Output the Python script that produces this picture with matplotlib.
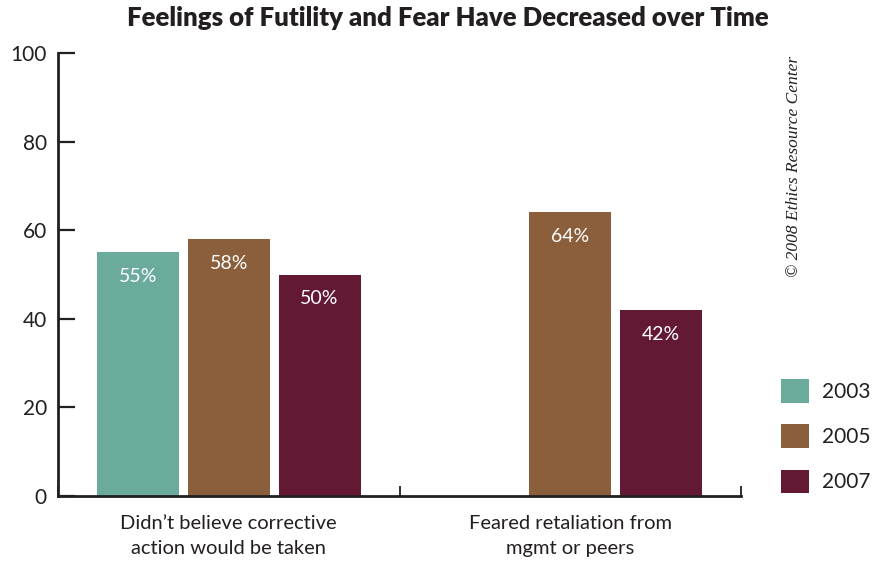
import matplotlib

matplotlib.use("Agg")
import matplotlib.pyplot as plt
from matplotlib.patches import Patch

categories = ["Didn\u2019t believe corrective\naction would be taken",
              "Feared retaliation from\nmgmt or peers"]
years = ["2003", "2005", "2007"]
values_2003 = [55, None]
values_2005 = [58, 64]
values_2007 = [50, 42]
colors = ["#6aab9c", "#8b5e3c", "#631834"]

plt.rcParams["font.family"] = ["Lato", "DejaVu Sans"]

fig = plt.figure(figsize=(8.76, 5.61), dpi=100)
ax = fig.add_axes([58 / 876, 1 - 496 / 561, (741 - 58) / 876, (496 - 53) / 561])

centers = [0.5, 1.5]
width = 0.24
step = 0.266
series = [values_2003, values_2005, values_2007]
for i, (vals, col) in enumerate(zip(series, colors)):
    for c, v in zip(centers, vals):
        if v is None:
            continue
        x = c + (i - 1) * step
        ax.bar(x, v, width=width, color=col, linewidth=0)
        ax.text(x, v - 5.5, f"{v}%", ha="center", va="center",
                color="white", fontsize=14)

ax.set_xlim(0, 2)
ax.set_ylim(0, 100)
ax.set_yticks(range(0, 101, 20))
ax.tick_params(axis="y", direction="in", length=12, width=1.6,
               labelsize=15, pad=8, color="#231f20", labelcolor="#231f20")
ax.set_xticks([0, 1, 2])
ax.set_xticklabels([])
ax.tick_params(axis="x", direction="in", length=7, width=1.3, color="#231f20")
ax.set_xticks(centers, minor=True)
ax.set_xticklabels(categories, minor=True)
ax.tick_params(axis="x", which="minor", length=0, labelsize=14.5, pad=14,
               labelcolor="#231f20")
for lbl in ax.get_xticklabels(minor=True):
    lbl.set_linespacing(1.55)

for side in ["top", "right"]:
    ax.spines[side].set_visible(False)
for side in ["left", "bottom"]:
    ax.spines[side].set_linewidth(2)
    ax.spines[side].set_color("#231f20")

fig.text(448 / 876, 1 - 18 / 561,
         "Feelings of Futility and Fear Have Decreased over Time",
         ha="center", va="center", fontsize=18.5, fontweight="heavy",
         color="#231f20")

fig.text(794 / 876, 1 - 166 / 561, "\u00a9 2008 Ethics Resource Center",
         rotation=90, ha="center", va="center", fontsize=12.5,
         style="italic", family=["Liberation Serif", "DejaVu Serif"],
         color="#231f20")

handles = [Patch(facecolor=c, edgecolor="none", label=y)
           for c, y in zip(colors, years)]
fig.legend(handles=handles, loc="upper left",
           bbox_to_anchor=(778 / 876, 1 - 376 / 561), frameon=False,
           fontsize=15, handlelength=1.35, handleheight=1.35,
           labelspacing=1.05, handletextpad=0.6, borderpad=0.15,
           borderaxespad=0, labelcolor="#231f20")

fig.savefig("out.png", dpi=100)
